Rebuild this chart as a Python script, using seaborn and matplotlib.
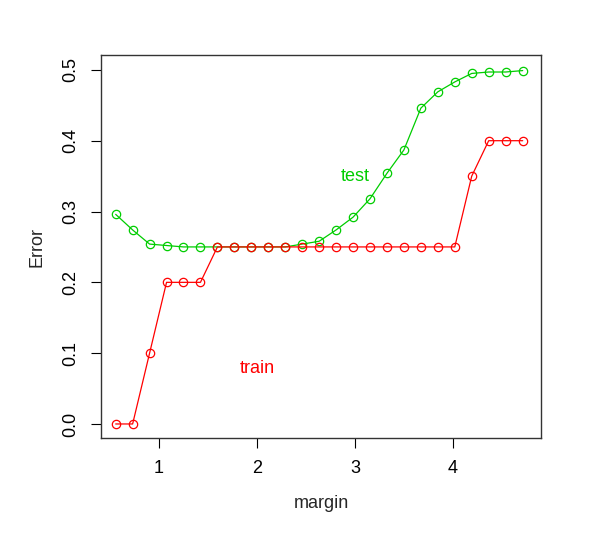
import matplotlib
matplotlib.use("Agg")
import seaborn as sns
import matplotlib.pyplot as plt

# margin values and error rates
margin = [0.558, 0.731, 0.904, 1.077, 1.250, 1.423, 1.596, 1.769, 1.942, 2.115,
          2.288, 2.461, 2.634, 2.807, 2.980, 3.153, 3.326, 3.499, 3.672, 3.845,
          4.018, 4.191, 4.364, 4.537, 4.711]
train_err = [0.0, 0.0, 0.1, 0.2, 0.2, 0.2, 0.25, 0.25, 0.25, 0.25,
             0.25, 0.25, 0.25, 0.25, 0.25, 0.25, 0.25, 0.25, 0.25, 0.25,
             0.25, 0.35, 0.4, 0.4, 0.4]
test_err = [0.296, 0.274, 0.254, 0.252, 0.250, 0.250, 0.250, 0.250, 0.250, 0.250,
            0.250, 0.254, 0.258, 0.274, 0.292, 0.318, 0.354, 0.387, 0.446, 0.469,
            0.483, 0.495, 0.497, 0.497, 0.499]
x_ticks = [1, 2, 3, 4]
y_ticks = [0.0, 0.1, 0.2, 0.3, 0.4, 0.5]

sns.set_style("ticks")
plt.rcParams['font.family'] = ['Liberation Sans', 'DejaVu Sans']

fig = plt.figure(figsize=(6, 5.42), dpi=100)
ax = fig.add_axes([0.1683, 0.1919, 0.7334, 0.7066])

red = "#FF0000"
green = "#00CD00"
sns.lineplot(x=margin, y=test_err, ax=ax, color=green, lw=0.9, marker='o',
             markersize=6, markerfacecolor='none', markeredgecolor=green, markeredgewidth=0.9)
sns.lineplot(x=margin, y=train_err, ax=ax, color=red, lw=0.9, marker='o',
             markersize=6, markerfacecolor='none', markeredgecolor=red, markeredgewidth=0.9)

ax.text(3.0, 0.35, "test", color=green, fontsize=13, ha='center', va='center')
ax.text(2.0, 0.079, "train", color=red, fontsize=13, ha='center', va='center')

ax.set_xlim(0.408, 4.898)
ax.set_ylim(-0.0198, 0.521)
ax.set_xticks(x_ticks)
ax.set_xticklabels([str(t) for t in x_ticks])
ax.set_yticks(y_ticks)
ax.set_yticklabels([f"{t:.1f}" for t in y_ticks], rotation=90, va='center')
ax.tick_params(direction='out', length=7, width=0.8, labelsize=13, pad=9, colors='black')

for s in ax.spines.values():
    s.set_visible(True)
    s.set_color('#333333')
    s.set_linewidth(1.0)

ax.set_xlabel("margin", fontsize=13, labelpad=13)
ax.set_ylabel("Error", fontsize=13, labelpad=12)

fig.savefig("out.png", dpi=100)
